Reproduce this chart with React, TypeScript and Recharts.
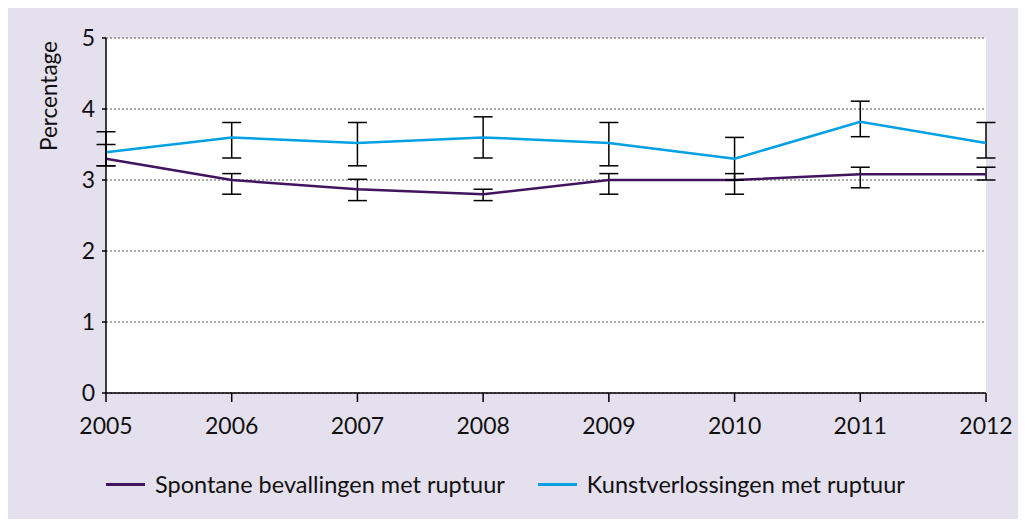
import React from 'react';
import { LineChart, Line, XAxis, YAxis, CartesianGrid, ErrorBar } from 'recharts';

const years = [2005, 2006, 2007, 2008, 2009, 2010, 2011, 2012];
const spontaan = [3.3, 3.0, 2.87, 2.8, 3.0, 3.0, 3.08, 3.08];
const spontaanLow = [3.2, 2.8, 2.71, 2.71, 2.8, 2.8, 2.89, 3.0];
const spontaanHigh = [3.5, 3.09, 3.01, 2.87, 3.09, 3.09, 3.18, 3.18];
const kunst = [3.39, 3.6, 3.52, 3.6, 3.52, 3.3, 3.82, 3.52];
const kunstLow = [3.2, 3.31, 3.2, 3.31, 3.2, 3.0, 3.61, 3.31];
const kunstHigh = [3.68, 3.81, 3.81, 3.89, 3.81, 3.6, 4.11, 3.81];
const yTicks = [0, 1, 2, 3, 4, 5];
const seriesNames = ['Spontane bevallingen met ruptuur', 'Kunstverlossingen met ruptuur'];
const yLabel = 'Percentage';

const PURPLE = '#42145f';
const BLUE = '#01a0e2';
const FONT = 'Lato, "Open Sans", sans-serif';

const data = years.map((y, i) => ({
  year: y,
  sp: spontaan[i],
  spErr: [+(spontaan[i] - spontaanLow[i]).toFixed(3), +(spontaanHigh[i] - spontaan[i]).toFixed(3)],
  ku: kunst[i],
  kuErr: [+(kunst[i] - kunstLow[i]).toFixed(3), +(kunstHigh[i] - kunst[i]).toFixed(3)],
}));

const YLabel = (props: any) => {
  const { viewBox } = props;
  const x = 40;
  const y = viewBox.y + 58;
  return (
    <text x={x} y={y} transform={`rotate(-90, ${x}, ${y})`} textAnchor="middle" dominantBaseline="central"
      fontFamily={FONT} fontSize={22.5} fill="#111">{yLabel}</text>
  );
};

export default function App() {
  return (
    <div style={{ position: 'relative', width: 1018, height: 511, background: '#e5e0ed' }}>
      <LineChart width={1018} height={511} data={data} margin={{ top: 30, right: 40, bottom: 86, left: 38 }}>
        <CartesianGrid vertical={false} strokeDasharray="2 2" stroke="#555" fill="#ffffff" />
        <XAxis dataKey="year" type="number" domain={[2005, 2012]} ticks={years} tickSize={9} tickMargin={16}
          axisLine={{ stroke: '#000', strokeWidth: 1.5 }} tickLine={{ stroke: '#000', strokeWidth: 1.5 }}
          tick={{ fill: '#111', fontSize: 23, fontFamily: FONT }} height={40} interval={0} />
        <YAxis domain={[0, 5]} ticks={yTicks} tickSize={4} tickMargin={7} width={60}
          axisLine={{ stroke: '#000', strokeWidth: 1.5 }} tickLine={{ stroke: '#000', strokeWidth: 1.5 }}
          tick={{ fill: '#111', fontSize: 23, fontFamily: FONT }} label={<YLabel />} />
        <Line dataKey="sp" stroke={PURPLE} strokeWidth={2.5} dot={false} isAnimationActive={false} name={seriesNames[0]}>
          <ErrorBar dataKey="spErr" width={9.5} stroke="#000" strokeWidth={1.5} direction="y" isAnimationActive={false} />
        </Line>
        <Line dataKey="ku" stroke={BLUE} strokeWidth={2.5} dot={false} isAnimationActive={false} name={seriesNames[1]}>
          <ErrorBar dataKey="kuErr" width={9.5} stroke="#000" strokeWidth={1.5} direction="y" isAnimationActive={false} />
        </Line>
      </LineChart>
      <div style={{ position: 'absolute', left: 98, top: 462, display: 'flex', alignItems: 'center', fontFamily: FONT, fontSize: 23.5, color: '#111' }}>
        {[PURPLE, BLUE].map((c, i) => (
          <div key={i} style={{ display: 'flex', alignItems: 'center', marginRight: i === 0 ? 33 : 0 }}>
            <div style={{ width: 39, height: 3, background: c, marginRight: 10 }} />
            <span>{seriesNames[i]}</span>
          </div>
        ))}
      </div>
    </div>
  );
}
